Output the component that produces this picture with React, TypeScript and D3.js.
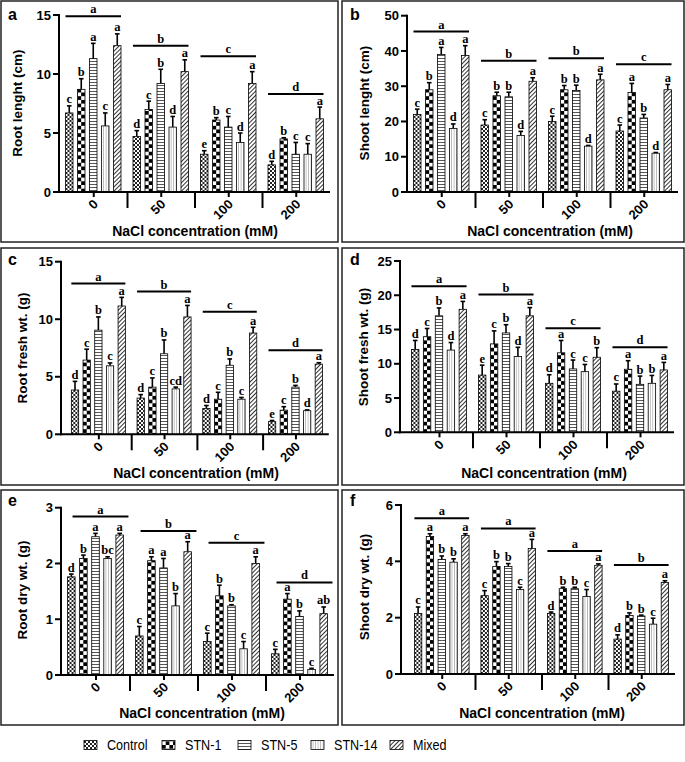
import React from "react";
import * as d3 from "d3";

const series = ["Control", "STN-1", "STN-5", "STN-14", "Mixed"];
const groups = ["0", "50", "100", "200"];

// a - root length (cm)
const rootLength = [[6.7, 8.7, 11.3, 5.6, 12.4], [4.7, 7.0, 9.2, 5.5, 10.2], [3.2, 6.1, 5.5, 4.2, 9.2], [2.3, 4.5, 3.2, 3.2, 6.2]];
const rootLengthSd = [[0.6, 0.9, 1.3, 1.1, 1.0], [0.5, 0.7, 1.2, 0.9, 1.0], [0.3, 0.2, 0.9, 0.8, 1.0], [0.3, 0.1, 1.0, 0.9, 1.0]];
const rootLengthLetters = [["c", "b", "a", "c", "a"], ["d", "c", "b", "d", "a"], ["e", "b", "c", "d", "a"], ["d", "b", "c", "c", "a"]];
const rootLengthGroup = ["a", "b", "c", "d"];
const rootLengthGroupLevel = [14.9, 12.4, 11.5, 8.3];

// b - shoot length (cm)
const shootLength = [[22, 29, 39, 18, 38.7], [19, 27.3, 27, 16, 31.4], [20, 29, 28.8, 13, 31.8], [17.3, 28.2, 21, 11, 29]];
const shootLengthSd = [[1.5, 2, 2, 1.3, 2.8], [1.5, 1, 1.3, 1.2, 1], [1.5, 1.2, 1.5, 0.2, 1.6], [1.7, 2.6, 1, 0.2, 1.5]];
const shootLengthLetters = [["c", "b", "a", "d", "a"], ["c", "b", "b", "d", "a"], ["c", "b", "b", "d", "a"], ["c", "a", "b", "d", "a"]];
const shootLengthGroup = ["a", "b", "b", "c"];
const shootLengthGroupLevel = [45.5, 37.2, 37.9, 36.2];

// c - root fresh wt (g)
const rootFresh = [[3.85, 6.45, 9.05, 5.95, 11.15], [3.15, 4.1, 7.0, 3.95, 10.2], [2.25, 3.05, 6.0, 3.05, 8.8], [1.1, 2.1, 4.1, 2.05, 6.1]];
const rootFreshSd = [[0.75, 0.95, 1.15, 0.25, 0.75], [0.3, 0.8, 1.2, 0.15, 1.0], [0.25, 0.6, 0.55, 0.15, 0.5], [0.1, 0.3, 0.15, 0.07, 0.12]];
const rootFreshLetters = [["d", "c", "b", "c", "a"], ["d", "c", "b", "cd", "a"], ["d", "c", "b", "c", "a"], ["e", "c", "b", "d", "a"]];
const rootFreshGroup = ["a", "b", "c", "d"];
const rootFreshGroupLevel = [13.1, 12.4, 10.65, 7.3];

// d - shoot fresh wt (g)
const shootFresh = [[12.1, 13.95, 17.0, 12.0, 17.95], [8.35, 12.9, 14.5, 11.05, 17.0], [7.15, 11.6, 9.25, 8.85, 10.95], [6.0, 9.2, 7.0, 7.15, 9.1]];
const shootFreshSd = [[1.3, 1.2, 1.15, 1.1, 1.15], [1.45, 1.9, 1.2, 1.35, 1.2], [1.25, 1.8, 1.3, 1.05, 1.4], [1.05, 1.25, 1.2, 1.15, 1.1]];
const shootFreshLetters = [["d", "c", "b", "d", "a"], ["e", "c", "b", "d", "a"], ["d", "a", "c", "c", "b"], ["c", "a", "b", "b", "a"]];
const shootFreshGroup = ["a", "b", "c", "d"];
const shootFreshGroupLevel = [21.3, 20.1, 15.2, 12.4];

// e - root dry wt (g)
const rootDry = [[1.76, 2.09, 2.48, 2.09, 2.51], [0.7, 2.05, 1.92, 1.24, 2.21], [0.6, 1.42, 1.24, 0.47, 2.0], [0.38, 1.36, 1.05, 0.1, 1.1]];
const rootDrySd = [[0.05, 0.06, 0.06, 0.03, 0.03], [0.17, 0.07, 0.17, 0.22, 0.18], [0.15, 0.19, 0.02, 0.13, 0.12], [0.08, 0.1, 0.1, 0.02, 0.12]];
const rootDryLetters = [["d", "b", "a", "bc", "a"], ["c", "a", "a", "b", "a"], ["c", "b", "b", "c", "a"], ["c", "a", "b", "c", "ab"]];
const rootDryGroup = ["a", "b", "c", "d"];
const rootDryGroupLevel = [2.84, 2.58, 2.37, 1.66];

// f - shoot dry wt (g)
const shootDry = [[2.15, 4.88, 4.07, 3.97, 4.92], [2.78, 3.82, 3.82, 3.0, 4.46], [2.15, 3.03, 3.03, 2.75, 3.86], [1.24, 2.08, 2.06, 1.77, 3.25]];
const shootDrySd = [[0.23, 0.1, 0.12, 0.12, 0.06], [0.18, 0.17, 0.1, 0.08, 0.32], [0.05, 0.05, 0.05, 0.25, 0.05], [0.15, 0.09, 0.03, 0.21, 0.06]];
const shootDryLetters = [["c", "a", "b", "b", "a"], ["c", "b", "b", "c", "a"], ["d", "b", "b", "c", "a"], ["d", "b", "b", "c", "a"]];
const shootDryGroup = ["a", "a", "a", "b"];
const shootDryGroupLevel = [5.53, 5.17, 4.37, 3.87];

const SANS = "'Liberation Sans', Arial, sans-serif";
const SERIF = "'Liberation Serif', 'Times New Roman', serif";
const patId = (i: number) => `pat-${i}`;

const Patterns = () => (
  <defs>
    <pattern id={patId(0)} patternUnits="userSpaceOnUse" width={4} height={4}>
      <rect width={4} height={4} fill="#fff" />
      <rect width={2} height={2} fill="#222" />
      <rect x={2} y={2} width={2} height={2} fill="#222" />
    </pattern>
    <pattern id={patId(1)} patternUnits="userSpaceOnUse" width={7.4} height={7.4}>
      <rect width={7.4} height={7.4} fill="#fff" />
      <rect width={3.7} height={3.7} fill="#000" />
      <rect x={3.7} y={3.7} width={3.7} height={3.7} fill="#000" />
    </pattern>
    <pattern id={patId(2)} patternUnits="userSpaceOnUse" width={6} height={3}>
      <rect width={6} height={3} fill="#fff" />
      <line x1={0} x2={6} y1={1.5} y2={1.5} stroke="#444" strokeWidth={0.9} />
    </pattern>
    <pattern id={patId(3)} patternUnits="userSpaceOnUse" width={2.5} height={6}>
      <rect width={2.5} height={6} fill="#fff" />
      <line x1={2.5} x2={2.5} y1={0} y2={6} stroke="#555" strokeWidth={0.8} />
    </pattern>
    <pattern id={patId(4)} patternUnits="userSpaceOnUse" width={3} height={3} patternTransform="rotate(45)">
      <rect width={3} height={3} fill="#fff" />
      <line x1={0.5} x2={0.5} y1={0} y2={3} stroke="#333" strokeWidth={1} />
    </pattern>
  </defs>
);

type Cfg = {
  box: [number, number, number, number];
  axisX: number; bandX: number; step: number; y0: number; yTop: number;
  titleX: number; titleY: number; yTitleX: number; yTitleY: number;
  tagX: number; tagY: number; lineShift?: number;
};

type PanelProps = {
  cfg: Cfg; tag: string; yLabel: string; yMax: number; ticks: number[];
  values: number[][]; sd: number[][]; letters: string[][];
  groupLetters: string[]; groupLevels: number[];
};

const Panel = ({ cfg, tag, yLabel, yMax, ticks, values, sd, letters, groupLetters, groupLevels }: PanelProps) => {
  const { step } = cfg;
  const x0 = d3.scaleBand().domain(groups).range([cfg.bandX, cfg.bandX + step * groups.length]);
  const x1 = d3.scaleBand().domain(series)
    .range([(5.5 / 67.5) * step, step - (6.5 / 67.5) * step])
    .paddingInner(0.375);
  const y = d3.scaleLinear().domain([0, yMax]).range([cfg.y0, cfg.yTop]);
  const bw = x1.bandwidth();
  const xEnd = cfg.bandX + step * groups.length;
  const shift = cfg.lineShift || 0;
  const [bx, by, bwid, bh] = cfg.box;

  return (
    <g>
      <rect x={bx} y={by} width={bwid} height={bh} fill="none" stroke="#222" strokeWidth={1.5} />
      <text x={cfg.tagX} y={cfg.tagY} fontFamily={SANS} fontWeight="bold" fontSize={16}>{tag}</text>

      {/* bars */}
      {groups.map((g, gi) => (
        <g key={g}>
          {series.map((s, si) => {
            const bxp = (x0(g) as number) + (x1(s) as number);
            const v = values[gi][si];
            const top = v + sd[gi][si];
            const cx = bw / 2;
            return (
              <g key={s} transform={`translate(${bxp},0)`}>
                <line x1={cx} x2={cx} y1={y(v)} y2={y(top)} stroke="#000" strokeWidth={1.6} />
                <line x1={cx - 2.3} x2={cx + 2.3} y1={y(top)} y2={y(top)} stroke="#000" strokeWidth={1.6} />
                <rect x={0} y={y(v)} width={bw} height={cfg.y0 - y(v)} fill={`url(#${patId(si)})`} stroke="#000" strokeWidth={0.8} />
                <text x={cx} y={y(top) - 2.5} textAnchor="middle" fontFamily={SERIF} fontWeight="bold" fontSize={12.5}>
                  {letters[gi][si]}
                </text>
              </g>
            );
          })}
          {/* group significance line */}
          <line
            x1={(x0(g) as number) + (x1(series[0]) as number) + shift}
            x2={(x0(g) as number) + (x1(series[4]) as number) + bw + shift}
            y1={y(groupLevels[gi])} y2={y(groupLevels[gi])}
            stroke="#000" strokeWidth={2}
          />
          <text
            x={(x0(g) as number) + ((x1(series[0]) as number) + (x1(series[4]) as number) + bw) / 2 + shift}
            y={y(groupLevels[gi]) - 3}
            textAnchor="middle" fontFamily={SERIF} fontWeight="bold" fontSize={12.5}
          >
            {groupLetters[gi]}
          </text>
        </g>
      ))}

      {/* y axis */}
      <line x1={cfg.axisX} x2={cfg.axisX} y1={cfg.y0 + 1} y2={cfg.yTop - 1} stroke="#000" strokeWidth={2} />
      {ticks.map((t) => (
        <g key={t}>
          <line x1={cfg.axisX - 6} x2={cfg.axisX} y1={y(t)} y2={y(t)} stroke="#000" strokeWidth={2} />
          <text x={cfg.axisX - 8} y={y(t)} dy="0.36em" textAnchor="end" fontFamily={SANS} fontWeight="bold" fontSize={13}>
            {t}
          </text>
        </g>
      ))}
      <text
        transform={`translate(${cfg.yTitleX},${cfg.yTitleY}) rotate(-90)`}
        textAnchor="middle" dy="0.36em" fontFamily={SANS} fontWeight="bold" fontSize={13.5}
      >
        {yLabel}
      </text>

      {/* x axis */}
      <line x1={cfg.axisX - 1} x2={xEnd} y1={cfg.y0} y2={cfg.y0} stroke="#000" strokeWidth={2} />
      {groups.map((g, gi) => {
        const cx = (x0(g) as number) + step / 2;
        return (
          <g key={g}>
            <line x1={cx} x2={cx} y1={cfg.y0} y2={cfg.y0 + 5} stroke="#000" strokeWidth={2} />
            {gi > 0 && (
              <line x1={x0(g) as number} x2={x0(g) as number} y1={cfg.y0} y2={cfg.y0 + 16} stroke="#000" strokeWidth={2} />
            )}
            <text
              transform={`translate(${cx + 5},${cfg.y0 + 13}) rotate(-45)`}
              textAnchor="end" fontFamily={SANS} fontWeight="bold" fontSize={13}
            >
              {g}
            </text>
          </g>
        );
      })}
      <text x={cfg.titleX} y={cfg.titleY} dy="0.36em" textAnchor="middle" fontFamily={SANS} fontWeight="bold" fontSize={14}>
        NaCl concentration (mM)
      </text>
    </g>
  );
};

const legendX = [84, 162, 238, 311, 390];

const App = () => (
  <svg width={685} height={762} style={{ position: "absolute", left: 0, top: 0, background: "#fff" }}>
    <Patterns />
    <rect width={685} height={762} fill="#fff" />
    <Panel
      cfg={{ box: [1, 1, 337, 241], axisX: 59, bandX: 60, step: 67.5, y0: 192, yTop: 15, titleX: 195, titleY: 231, yTitleX: 17, yTitleY: 103, tagX: 8, tagY: 20 }}
      tag="a" yLabel="Root lenght (cm)" yMax={15} ticks={[0, 5, 10, 15]}
      values={rootLength} sd={rootLengthSd} letters={rootLengthLetters}
      groupLetters={rootLengthGroup} groupLevels={rootLengthGroupLevel}
    />
    <Panel
      cfg={{ box: [342, 1, 342, 241], axisX: 407, bandX: 408, step: 67.5, y0: 192, yTop: 15.7, titleX: 550, titleY: 231, yTitleX: 364, yTitleY: 103, tagX: 350, tagY: 20 }}
      tag="b" yLabel="Shoot lenght (cm)" yMax={50} ticks={[0, 10, 20, 30, 40, 50]}
      values={shootLength} sd={shootLengthSd} letters={shootLengthLetters}
      groupLetters={shootLengthGroup} groupLevels={shootLengthGroupLevel}
    />
    <Panel
      cfg={{ box: [1, 248, 337, 237], axisX: 61, bandX: 66, step: 65.7, y0: 434.3, yTop: 261.7, titleX: 196, titleY: 473, yTitleX: 22, yTitleY: 348, tagX: 8, tagY: 265 }}
      tag="c" yLabel="Root fresh wt. (g)" yMax={15} ticks={[0, 5, 10, 15]}
      values={rootFresh} sd={rootFreshSd} letters={rootFreshLetters}
      groupLetters={rootFreshGroup} groupLevels={rootFreshGroupLevel}
    />
    <Panel
      cfg={{ box: [342, 248, 342, 237], axisX: 400, bandX: 406, step: 67, y0: 432.3, yTop: 261, titleX: 544, titleY: 473, yTitleX: 363, yTitleY: 347, tagX: 350, tagY: 265 }}
      tag="d" yLabel="Shoot fresh wt. (g)" yMax={25} ticks={[0, 5, 10, 15, 20, 25]}
      values={shootFresh} sd={shootFreshSd} letters={shootFreshLetters}
      groupLetters={shootFreshGroup} groupLevels={shootFreshGroupLevel}
    />
    <Panel
      cfg={{ box: [1, 490, 337, 235], axisX: 61, bandX: 62, step: 68, y0: 675, yTop: 507.7, titleX: 202, titleY: 713, yTitleX: 22, yTitleY: 590, tagX: 8, tagY: 506, lineShift: 5 }}
      tag="e" yLabel="Root dry wt. (g)" yMax={3} ticks={[0, 1, 2, 3]}
      values={rootDry} sd={rootDrySd} letters={rootDryLetters}
      groupLetters={rootDryGroup} groupLevels={rootDryGroupLevel}
    />
    <Panel
      cfg={{ box: [342, 490, 342, 235], axisX: 401, bandX: 409, step: 66.5, y0: 674, yTop: 505, titleX: 542, titleY: 713, yTitleX: 364, yTitleY: 587, tagX: 350, tagY: 506 }}
      tag="f" yLabel="Shoot dry wt. (g)" yMax={6} ticks={[0, 2, 4, 6]}
      values={shootDry} sd={shootDrySd} letters={shootDryLetters}
      groupLetters={shootDryGroup} groupLevels={shootDryGroupLevel}
    />

    {/* legend */}
    {series.map((s, i) => (
      <g key={s} transform={`translate(${legendX[i]},745)`}>
        <rect x={0} y={-4.5} width={13} height={9} fill={`url(#${patId(i)})`} stroke="#000" strokeWidth={0.8} />
        <text transform="translate(23,0) scale(0.84,1)" dy="0.36em" fontFamily={SANS} fontSize={15}>
          {s}
        </text>
      </g>
    ))}
  </svg>
);

export default App;
